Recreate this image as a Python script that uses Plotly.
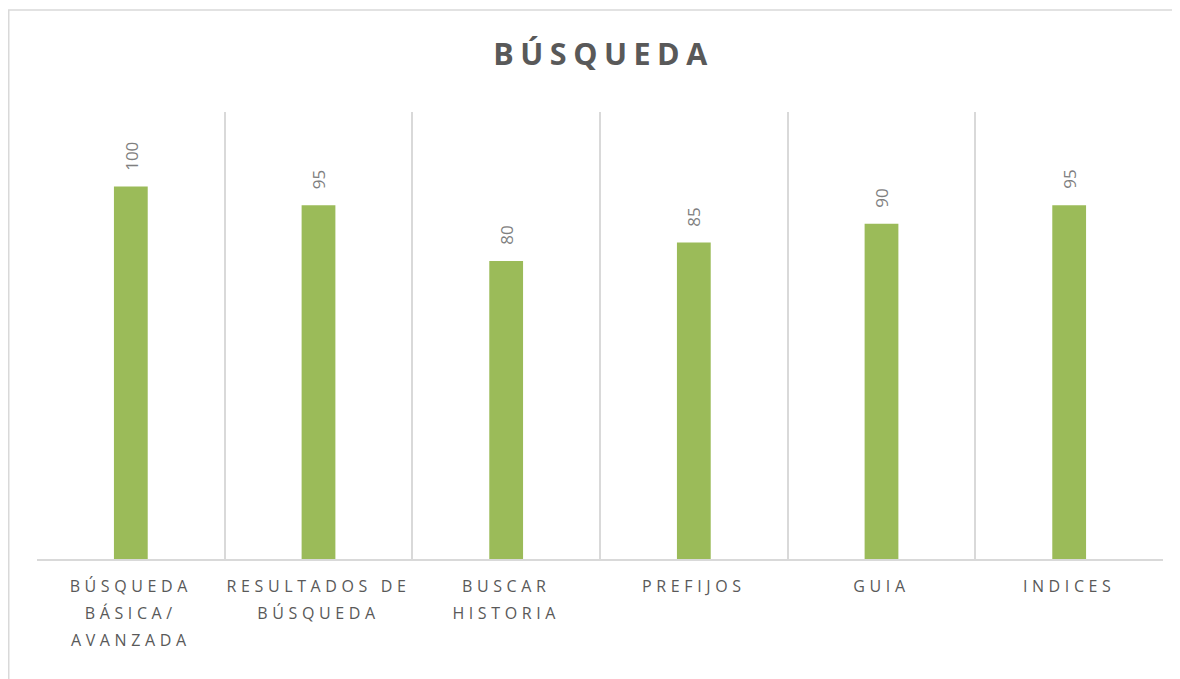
import plotly.graph_objects as go

categories = ["BÚSQUEDA<br>BÁSICA/<br>AVANZADA", "RESULTADOS DE<br>BÚSQUEDA", "BUSCAR<br>HISTORIA",
              "PREFIJOS", "GUIA", "INDICES"]
values = [100, 95, 80, 85, 90, 95]
title_text = "BÚSQUEDA"

# page body has an 8px margin, so the figure is drawn at (8, 8)
W, H = 1172, 671
L, R, T, B = 29, 17, 104, 120
pw, ph = W - L - R, H - T - B

fig = go.Figure(go.Bar(
    x=categories, y=values,
    marker=dict(color="#9BBB59", line=dict(width=0)),
    width=0.18,
    hoverinfo="x+y",
))

for c, v in zip(categories, values):
    fig.add_annotation(x=c, y=v, xref="x", yref="y", text=str(v), showarrow=False,
                       textangle=-90, yanchor="bottom", xanchor="center", yshift=14,
                       font=dict(family="Open Sans", size=17, color="#7F7F7F"))

fig.update_layout(
    width=W, height=H,
    margin=dict(l=L, r=R, t=T, b=B, pad=0),
    paper_bgcolor="white", plot_bgcolor="white",
    title=dict(text=title_text, x=(600 - 8 + 3.5) / W, xanchor="center", xref="container",
               y=1 - 46 / H, yref="container", yanchor="middle",
               font=dict(family="Open Sans", size=30.5, color="#595959", weight="bold")),
    showlegend=False,
    xaxis=dict(showgrid=True, gridcolor="#D9D9D9", gridwidth=1.5, tickson="boundaries",
               ticks="", showline=True, linecolor="#D9D9D9", linewidth=1.5,
               tickfont=dict(family="Open Sans", size=16, color="#595959"),
               ticklabelstandoff=12, zeroline=False),
    yaxis=dict(range=[0, 120], showgrid=False, showticklabels=False, zeroline=False,
               showline=False, ticks=""),
    shapes=[dict(type="rect", xref="paper", yref="paper",
                 x0=(0.75 - L) / pw, x1=(W + 10 - L) / pw,
                 y0=-(H + 10 - (T + ph)) / ph, y1=1 + (T - 2) / ph,
                 line=dict(color="#D9D9D9", width=1.5), fillcolor="rgba(0,0,0,0)", layer="below")],
)

post = """
var gd = document.getElementById('{plot_id}');
function fixText(){
  gd.querySelectorAll('.xtick text').forEach(function(t){
    t.style.letterSpacing = '4.6px';
    t.querySelectorAll('tspan.line').forEach(function(s){
      var dy = s.getAttribute('dy');
      if (dy && dy.indexOf('em') > 0 && !s.dataset.fixed) {
        var v = parseFloat(dy);
        s.setAttribute('dy', (v * 1.29) + 'em');
        s.dataset.fixed = '1';
      }
    });
  });
  var tt = gd.querySelector('.gtitle');
  if (tt) tt.style.letterSpacing = '6.5px';
}
fixText();
gd.on('plotly_afterplot', fixText);
"""

fig.write_html("out.html", post_script=post)
